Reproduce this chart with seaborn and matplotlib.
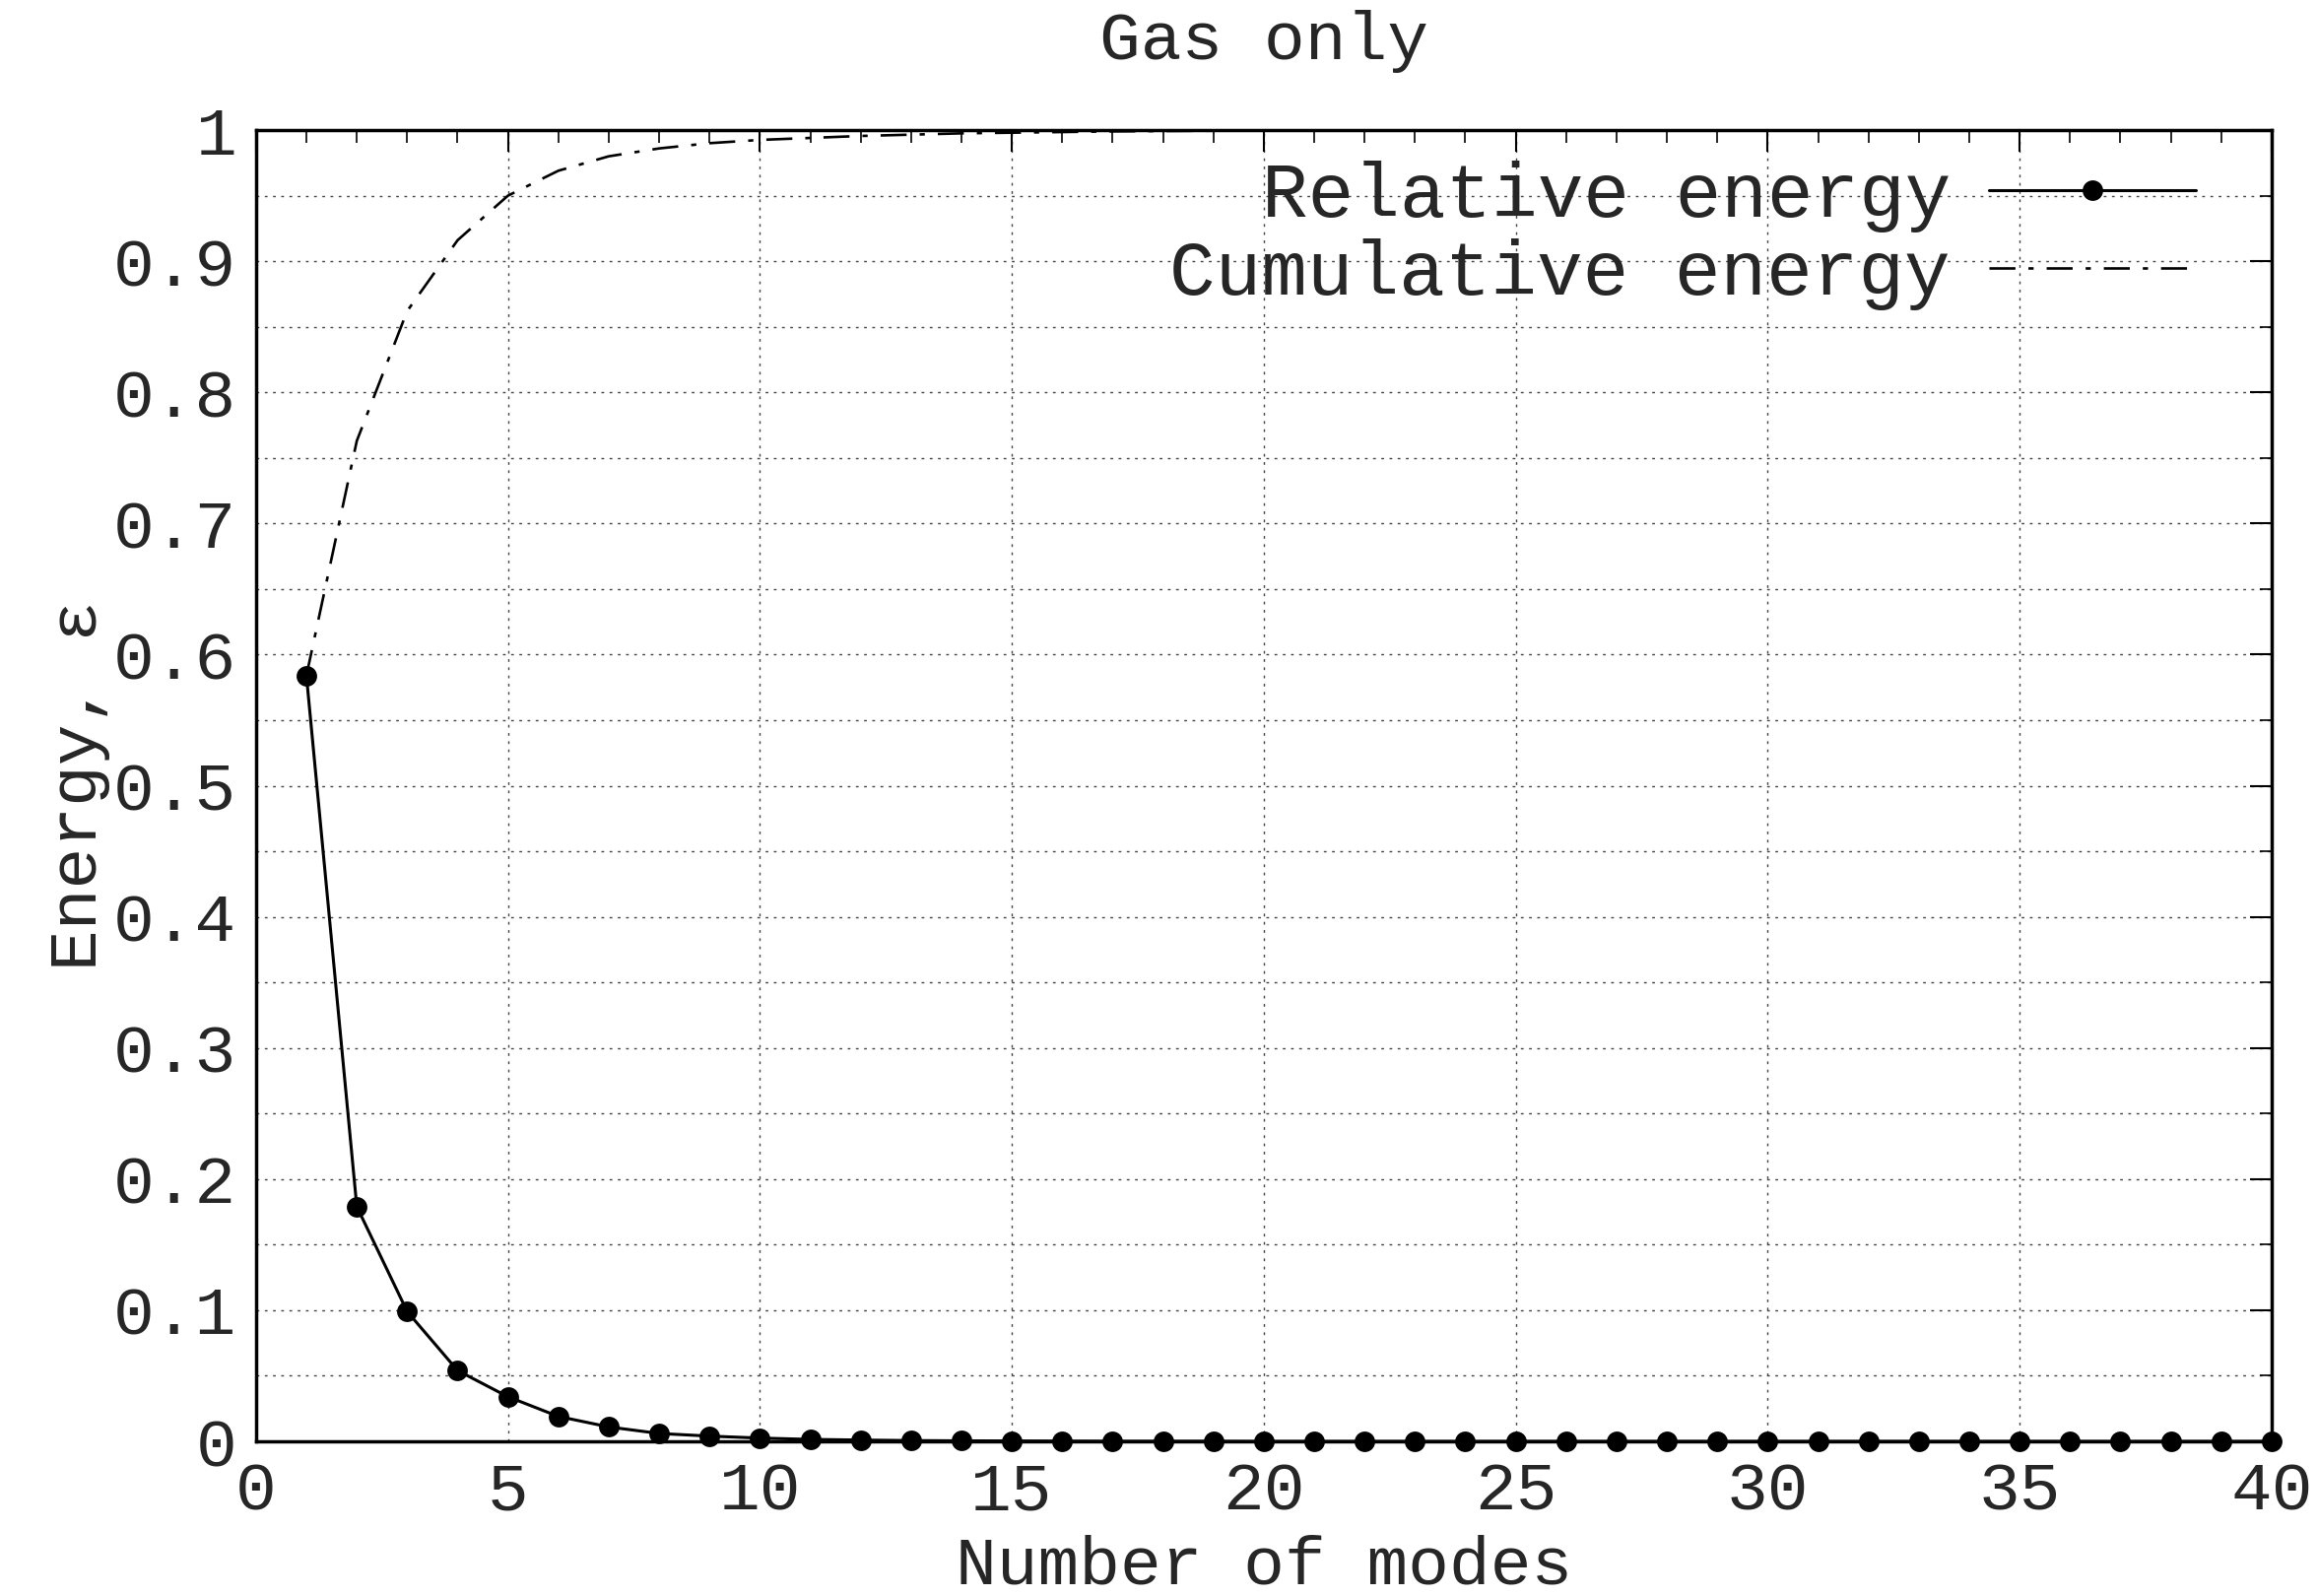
import numpy as np
import pandas as pd
import matplotlib
matplotlib.use("Agg")
import matplotlib.pyplot as plt
import seaborn as sns
from matplotlib.ticker import MultipleLocator, FixedLocator

modes = list(range(1, 41))
relative_energy = [0.584, 0.179, 0.099, 0.054, 0.034, 0.019, 0.011, 0.006, 0.004, 0.0025,
                   0.0015, 0.001, 0.0006, 0.0004, 0.0003, 0.0002, 0.0001, 0.0001, 0.0001, 0.0,
                   0.0, 0.0, 0.0, 0.0, 0.0, 0.0, 0.0, 0.0, 0.0, 0.0,
                   0.0, 0.0, 0.0, 0.0, 0.0, 0.0, 0.0, 0.0, 0.0, 0.0]
cumulative_energy = [0.584, 0.763, 0.862, 0.916, 0.950, 0.969, 0.980, 0.986, 0.990, 0.9925,
                     0.994, 0.9955, 0.9965, 0.9975, 0.998, 0.9985, 0.999, 0.9993, 0.9995, 0.9997,
                     0.9998, 0.9999, 1.0, 1.0, 1.0, 1.0, 1.0, 1.0, 1.0, 1.0,
                     1.0, 1.0, 1.0, 1.0, 1.0, 1.0, 1.0, 1.0, 1.0, 1.0]
x_ticks = [0, 5, 10, 15, 20, 25, 30, 35, 40]
y_ticks = [0, 0.1, 0.2, 0.3, 0.4, 0.5, 0.6, 0.7, 0.8, 0.9, 1.0]
y_tick_labels = ["0", "0.1", "0.2", "0.3", "0.4", "0.5", "0.6", "0.7", "0.8", "0.9", "1"]

sns.set_theme(style="white")
plt.rcParams['font.family'] = ['Liberation Mono', 'DejaVu Sans Mono']

df = pd.DataFrame({"mode": modes, "rel": relative_energy, "cum": cumulative_energy})

fig = plt.figure(figsize=(23.52, 16.2), dpi=100)
ax = fig.add_axes([0.1105, 0.0969, 0.9804 - 0.1105, 0.9185 - 0.0969])

sns.lineplot(data=df, x="mode", y="rel", ax=ax, color="black", lw=2.2,
             marker="o", markersize=15, markeredgewidth=0, label="Relative energy",
             clip_on=False, zorder=5)
sns.lineplot(data=df, x="mode", y="cum", ax=ax, color="black", lw=1.9,
             dashes=False, label="Cumulative energy", zorder=4)
ax.lines[-1].set_dashes([10, 5, 2, 5])

ax.set_xlim(0, 40)
ax.set_ylim(0, 1)
ax.xaxis.set_major_locator(FixedLocator(x_ticks))
ax.xaxis.set_minor_locator(MultipleLocator(1))
ax.yaxis.set_major_locator(FixedLocator(y_ticks))
ax.set_yticklabels(y_tick_labels)
ax.yaxis.set_minor_locator(MultipleLocator(0.05))

ax.grid(True, which="major", axis="x", color="#444444", ls=(0, (2, 4)), lw=1.0)
ax.grid(True, which="both", axis="y", color="#444444", ls=(0, (2, 4)), lw=1.0)

ax.tick_params(axis="both", which="major", direction="in", length=16, width=1.5,
               top=True, right=True, labelsize=50, pad=14, color="black")
ax.tick_params(axis="both", which="minor", direction="in", length=9, width=1.2,
               top=True, right=True, color="black")
for s in ax.spines.values():
    s.set_linewidth(2.5)
    s.set_color("black")

ax.set_xlabel("Number of modes", fontsize=50, labelpad=8)
ax.set_ylabel("Energy, ε", fontsize=50, labelpad=2)
ax.set_title("Gas only", fontsize=50, pad=52)

leg = ax.legend(loc="upper right", bbox_to_anchor=(0.9624, 0.9767), frameon=False,
                markerfirst=False, fontsize=56, handlelength=2.7, handletextpad=0.5,
                borderaxespad=0, borderpad=0, labelspacing=0.08)

fig.savefig("out.png", dpi=100)
